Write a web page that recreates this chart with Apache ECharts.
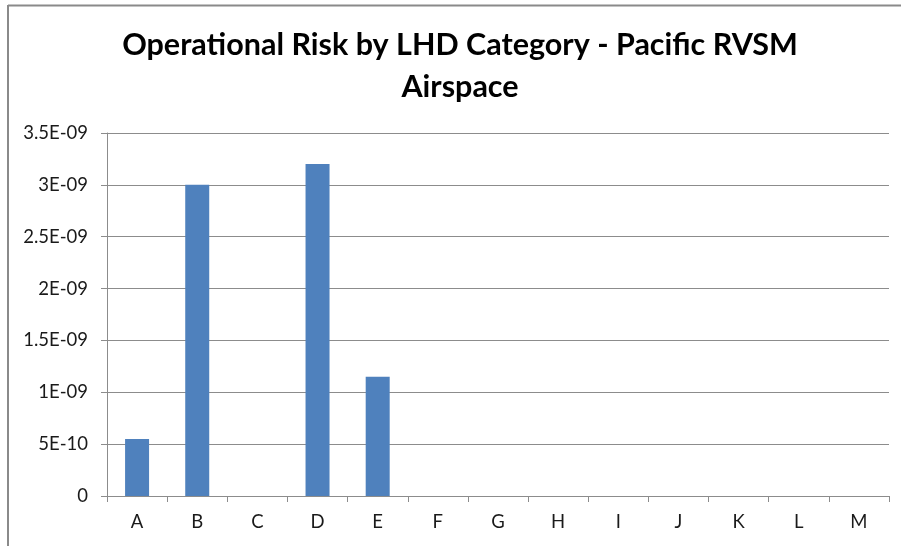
<!DOCTYPE html>
<html>
<head>
<meta charset="utf-8">
<style>
  html, body { margin: 0; padding: 0; background: #fff; }
  #chart { width: 901px; height: 546px; }
</style>
<script src="https://cdn.jsdelivr.net/npm/echarts@6/dist/echarts.min.js"></script>
</head>
<body>
<div id="chart"></div>
<script>
// LHD categories and the operational risk computed for each
const categories = ['A', 'B', 'C', 'D', 'E', 'F', 'G', 'H', 'I', 'J', 'K', 'L', 'M'];
const riskValues = [5.5e-10, 3.0e-9, 0, 3.2e-9, 1.15e-9, 0, 0, 0, 0, 0, 0, 0, 0];
const titleText = 'Operational Risk by LHD Category - Pacific RVSM\nAirspace';

// Spreadsheet-style scientific labels: 3.5E-09, 5E-10, 0
function sciLabel(v) {
  if (Math.abs(v) < 1e-20) return '0';
  const parts = v.toExponential(6).split('e');
  const mant = parseFloat(parts[0]).toString();
  const exp = parseInt(parts[1], 10);
  const sign = exp < 0 ? '-' : '+';
  const digits = String(Math.abs(exp)).padStart(2, '0');
  return mant + 'E' + sign + digits;
}

const chart = echarts.init(document.getElementById('chart'), null, { renderer: 'canvas' });
const fontFamily = 'Lato, "Open Sans", sans-serif';
const gridColor = '#8c8c8c';
const labelStyle = { color: '#1a1a1a', fontSize: 18.5, fontFamily: fontFamily };

chart.setOption({
  animation: false,
  backgroundColor: '#ffffff',
  title: {
    text: titleText,
    left: 455,
    top: 19,
    textAlign: 'center',
    textStyle: {
      fontFamily: fontFamily,
      fontWeight: 'bold',
      fontSize: 30.5,
      lineHeight: 42,
      color: '#000000'
    }
  },
  graphic: [
    { type: 'line', shape: { x1: 8, y1: 5.5, x2: 901, y2: 5.5 }, style: { stroke: '#8a8a8a', lineWidth: 2 } },
    { type: 'line', shape: { x1: 8, y1: 5, x2: 8, y2: 546 }, style: { stroke: '#8a8a8a', lineWidth: 2 } }
  ],
  grid: { left: 107, right: 12, top: 133, bottom: 50, containLabel: false },
  xAxis: {
    type: 'category',
    data: categories,
    boundaryGap: true,
    axisLine: { show: true, lineStyle: { color: gridColor, width: 1 } },
    axisTick: { show: true, alignWithLabel: false, length: 6, inside: false, lineStyle: { color: gridColor } },
    axisLabel: Object.assign({ margin: 17, interval: 0 }, labelStyle),
    splitLine: { show: false }
  },
  yAxis: {
    type: 'value',
    min: 0,
    max: 3.5e-9,
    interval: 5e-10,
    axisLine: { show: true, lineStyle: { color: gridColor, width: 1 } },
    axisTick: { show: true, length: 6, lineStyle: { color: gridColor } },
    axisLabel: Object.assign({ margin: 19, formatter: sciLabel }, labelStyle),
    splitLine: { show: true, lineStyle: { color: gridColor, width: 1 } }
  },
  series: [{
    type: 'bar',
    data: riskValues,
    barWidth: 24,
    itemStyle: { color: '#4f81bd' }
  }]
});
</script>
</body>
</html>
